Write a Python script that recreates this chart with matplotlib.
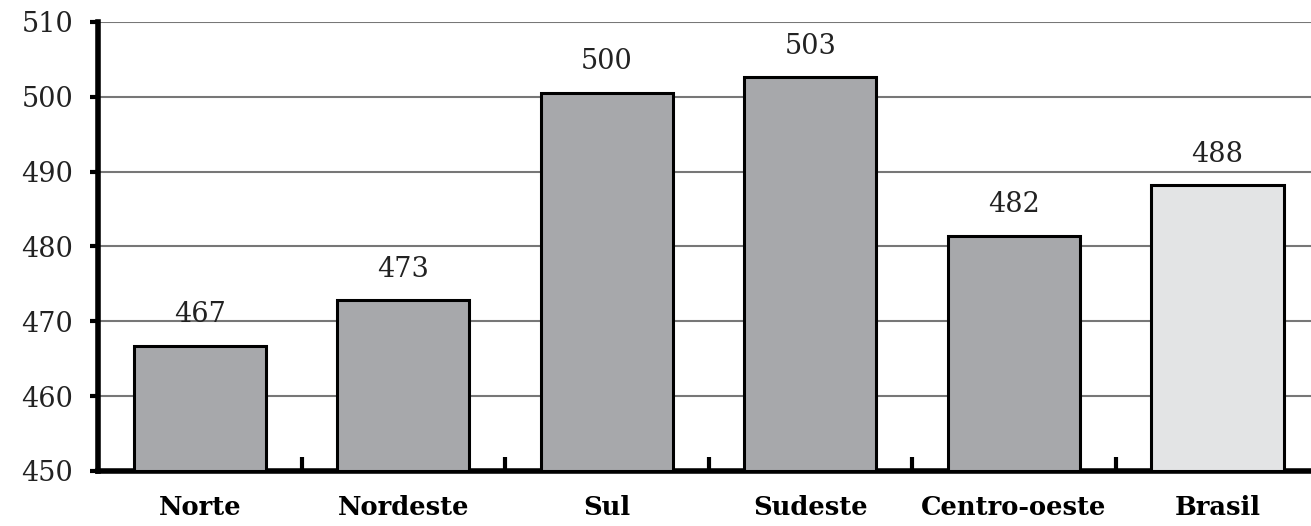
import matplotlib.pyplot as plt
import numpy as np

# data
regions = ["Norte", "Nordeste", "Sul", "Sudeste", "Centro-oeste", "Brasil"]
heights = [466.7, 472.8, 500.5, 502.6, 481.4, 488.2]
value_labels = ["467", "473", "500", "503", "482", "488"]
bar_colors = ["#a7a8ab", "#a7a8ab", "#a7a8ab", "#a7a8ab", "#a7a8ab", "#e3e4e5"]
y_ticks = [450, 460, 470, 480, 490, 500, 510]

plt.rcParams['font.family'] = ['DejaVu Serif']

fig = plt.figure(figsize=(13.11, 5.26), dpi=100)
ax = fig.add_axes([0.0748, 0.1046, 0.9252, 0.8536])

x = np.arange(len(regions))
ax.bar(x, np.array(heights) - 450, bottom=450, width=0.65, color=bar_colors,
       edgecolor="black", linewidth=2.2, zorder=3)

for xi, h, lab in zip(x, heights, value_labels):
    ax.annotate(lab, (xi, h), xytext=(0, 17), textcoords="offset points",
                ha="center", va="baseline", fontsize=19.5, color="#222222")

ax.set_ylim(450, 510)
ax.set_xlim(-0.5, 5.46)
ax.set_yticks(y_ticks)
ax.set_yticklabels([str(t) for t in y_ticks], fontsize=19.5, color="#222222")
ax.tick_params(axis="y", length=6, width=3, pad=12, direction="out")

ax.set_xticks(x)
ax.set_xticklabels(regions, fontsize=18.5, fontweight="bold")
ax.tick_params(axis="x", length=0, pad=17)
ax.set_xticks(np.arange(0.5, 5.5, 1), minor=True)
ax.tick_params(axis="x", which="minor", length=10, width=3, direction="in")

ax.yaxis.grid(True, color="#777777", linewidth=1.5, zorder=0)
ax.set_axisbelow(True)

for s in ["top", "right"]:
    ax.spines[s].set_visible(False)
ax.spines["left"].set_linewidth(4)
ax.spines["bottom"].set_linewidth(4)

fig.savefig("out.png", dpi=100)
